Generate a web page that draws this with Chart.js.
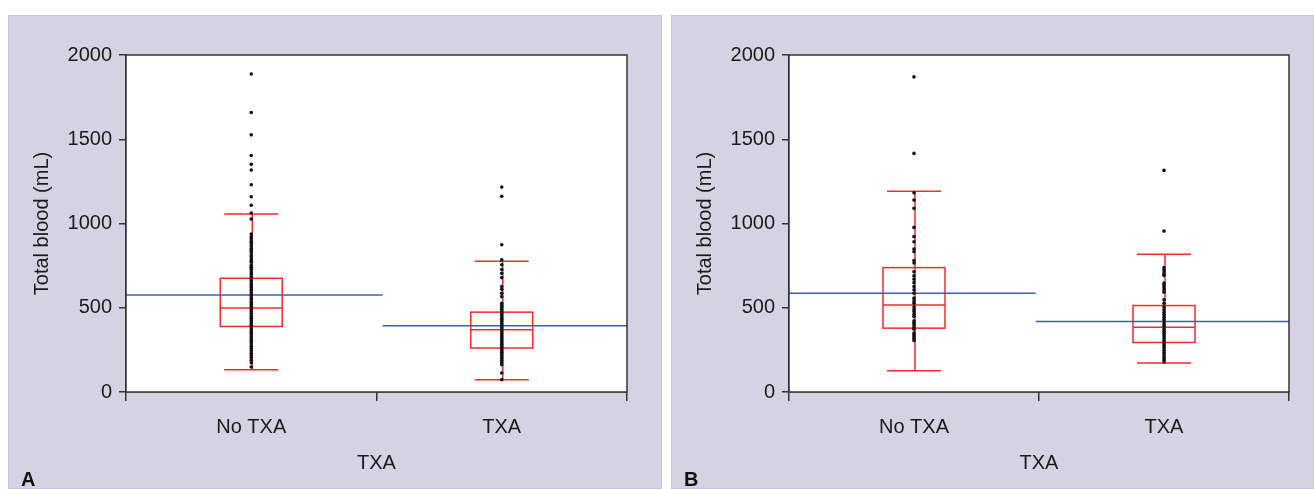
<!DOCTYPE html>
<html>
<head>
<meta charset="utf-8">
<script src="https://cdn.jsdelivr.net/npm/chart.js@4.4.1/dist/chart.umd.min.js"></script>
<style>
    html, body { margin: 0; padding: 0; background: #fff; }
    body { width: 1314px; height: 489px; position: relative; overflow: hidden; }
    .panel { position: absolute; top: 15px; height: 474px; background: #d5d2e4; box-shadow: inset 0 0 0 1px #c8c5d8; }
    .panel canvas { position: absolute; left: 0; top: 0; }
    .plotbg { position: absolute; background: #ffffff; }
    .tag { position: absolute; left: 13px; bottom: -2px; font: bold 20px 'Liberation Sans', Arial, sans-serif; color: #111; }
</style>
</head>
<body>
<div class="panel" id="panelA" style="left:8px;width:654px;">
    <div class="plotbg" id="bgA"></div>
    <canvas id="chartA" width="654" height="474"></canvas>
    <div class="tag">A</div>
</div>
<div class="panel" id="panelB" style="left:671px;width:643px;">
    <div class="plotbg" id="bgB"></div>
    <canvas id="chartB" width="643" height="474"></canvas>
    <div class="tag">B</div>
</div>
<script>
const CATEGORIES   = ['No TXA', 'TXA'];
const CAT_POS      = [0.5, 1.5];
const Y_TICKS      = [0, 500, 1000, 1500, 2000];

// panel A: individual observations
const A_NO_TXA = [1887, 1659, 1526, 1404, 1351, 1317, 1230, 1159, 1108, 1062, 1027,
    938, 921, 910, 894, 882, 866, 851, 840, 826, 808, 797, 781, 770, 752, 741, 728, 712,
    700, 686, 671, 660, 643, 630, 618, 604, 588, 575, 561, 549, 532, 520, 507, 491, 478,
    466, 450, 437, 424, 409, 396, 382, 368, 355, 341, 327, 312, 300, 286, 271, 258, 245,
    230, 216, 203, 188, 174, 148];
const A_TXA = [1216, 1161, 874, 784, 755, 727, 705, 679, 626, 610, 586, 566,
    527, 515, 503, 490, 478, 466, 455, 441, 430, 418, 405, 394, 381, 370, 357, 345, 333,
    320, 309, 296, 284, 272, 260, 248, 236, 223, 211, 199, 187, 174, 162, 113, 73];

// panel B: individual observations
const B_NO_TXA = [1870, 1416, 1182, 1139, 1090, 977, 922, 892, 849, 833, 780, 766, 714,
    689, 669, 649, 626, 606, 586, 557, 540, 527, 504, 490, 477, 460, 448, 422, 410, 399,
    385, 373, 350, 340, 329, 318, 306];
const B_TXA = [1315, 955, 738, 725, 712, 698, 691, 646, 632, 619, 605, 592, 547, 527, 505,
    488, 472, 458, 444, 430, 417, 402, 389, 375, 361, 347, 333, 318, 304, 290, 276, 262,
    248, 233, 219, 205, 192, 178];

// box stats per category: [whisker low, q1, median, q3, whisker high]
const A_BOXES = [[132, 389, 498, 675, 1056], [73, 261, 369, 474, 776]];
const B_BOXES = [[126, 379, 517, 738, 1192], [172, 294, 385, 513, 817]];
const A_MEANS = [575, 393];
const B_MEANS = [586, 418];
const A_MEAN_SPLIT = 1.025;
const B_MEAN_SPLIT = 0.987;

const AXIS_COLOR = '#333';
const BOX_COLOR  = '#f22b2b';
const MEAN_COLOR = '#3c5cb8';
const FONT       = "'Liberation Sans', Arial, sans-serif";

Chart.defaults.font.family = FONT;
Chart.defaults.color = '#1a1a1a';

const boxPlugin = {
    id: 'boxplot',
    beforeDatasetsDraw(chart, args, opts) {
        const { ctx, chartArea: a, scales: { x, y } } = chart;
        ctx.save();
        ctx.globalCompositeOperation = 'source-over';
        ctx.globalAlpha = 1;
        ctx.fillStyle = 'rgb(255,255,255)';
        ctx.fillRect(a.left, a.top, a.right - a.left, a.bottom - a.top);
        ctx.strokeStyle = BOX_COLOR;
        ctx.lineWidth = 1.5;
        opts.boxes.forEach((b, i) => {
            const cx = x.getPixelForValue(CAT_POS[i]);
            const [lo, q1, med, q3, hi] = b.map((v) => y.getPixelForValue(v));
            ctx.beginPath();
            ctx.moveTo(cx + 1, lo); ctx.lineTo(cx + 1, hi);
            ctx.moveTo(cx - 27, lo); ctx.lineTo(cx + 27, lo);
            ctx.moveTo(cx - 27, hi); ctx.lineTo(cx + 27, hi);
            ctx.moveTo(cx - 31, med); ctx.lineTo(cx + 31, med);
            ctx.stroke();
            ctx.strokeRect(cx - 31, q3, 62, q1 - q3);
        });
        ctx.restore();
    },
    afterDraw(chart) {
        const { ctx, chartArea: a } = chart;
        ctx.save();
        ctx.strokeStyle = AXIS_COLOR;
        ctx.lineWidth = 1.5;
        ctx.strokeRect(a.left, a.top, a.right - a.left, a.bottom - a.top);
        ctx.restore();
        // white plot background behind the canvas, sized from the chart area
        const bg = document.getElementById(chart.options.plugins.boxplot.bg);
        Object.assign(bg.style, {
            left: a.left + 'px', top: a.top + 'px',
            width: (a.right - a.left) + 'px', height: (a.bottom - a.top) + 'px'
        });
    }
};

function makeChart(id, bg, groups, boxes, means, split, rightPad) {
    const dotSets = groups.map((vals, i) => ({
        type: 'scatter',
        data: vals.map((v) => ({ x: CAT_POS[i], y: v })),
        pointRadius: 1.8,
        pointBackgroundColor: '#111',
        pointBorderWidth: 0
    }));
    const meanSets = means.map((m, i) => ({
        type: 'line',
        data: i === 0 ? [{ x: 0, y: m }, { x: split, y: m }] : [{ x: split, y: m }, { x: 2, y: m }],
        borderColor: MEAN_COLOR,
        borderWidth: 1.5,
        pointRadius: 0
    }));

    return new Chart(document.getElementById(id), {
        type: 'scatter',
        data: { datasets: [...dotSets, ...meanSets] },
        options: {
            responsive: false,
            animation: false,
            devicePixelRatio: 1,
            layout: { padding: { top: 40, right: rightPad, left: 0, bottom: 0 } },
            plugins: { legend: { display: false }, tooltip: { enabled: false }, boxplot: { boxes, bg } },
            scales: {
                x: {
                    type: 'linear',
                    min: 0,
                    max: 2,
                    afterBuildTicks: (s) => { s.ticks = [0, 0.5, 1, 1.5, 2].map((v) => ({ value: v })); },
                    afterFit: (s) => { s.height = 97; },
                    ticks: {
                        font: { size: 20 },
                        padding: 14,
                        autoSkip: false,
                        maxRotation: 0,
                        callback: (v) => { const i = CAT_POS.indexOf(v); return i >= 0 ? CATEGORIES[i] : ''; }
                    },
                    grid: {
                        drawOnChartArea: false,
                        tickLength: 9,
                        lineWidth: 1.5,
                        color: (c) => (Number.isInteger(c.tick?.value) ? AXIS_COLOR : 'rgba(0,0,0,0)')
                    },
                    border: { color: AXIS_COLOR, width: 1.5 },
                    title: { display: true, text: 'TXA', font: { size: 20 }, padding: { bottom: 14 } }
                },
                y: {
                    min: 0,
                    max: 2000,
                    afterBuildTicks: (s) => { s.ticks = Y_TICKS.map((v) => ({ value: v })); },
                    afterFit: (s) => { s.width = 118; },
                    ticks: { font: { size: 20 }, padding: 7, callback: (v) => String(v) },
                    grid: { drawOnChartArea: false, tickLength: 7, lineWidth: 1.5, color: AXIS_COLOR },
                    border: { color: AXIS_COLOR, width: 1.5 },
                    title: { display: true, text: 'Total blood (mL)', font: { size: 20 }, padding: { top: 22 } }
                }
            }
        },
        plugins: [boxPlugin]
    });
}

makeChart('chartA', 'bgA', [A_NO_TXA, A_TXA], A_BOXES, A_MEANS, A_MEAN_SPLIT, 35);
makeChart('chartB', 'bgB', [B_NO_TXA, B_TXA], B_BOXES, B_MEANS, B_MEAN_SPLIT, 25);
</script>
</body>
</html>
